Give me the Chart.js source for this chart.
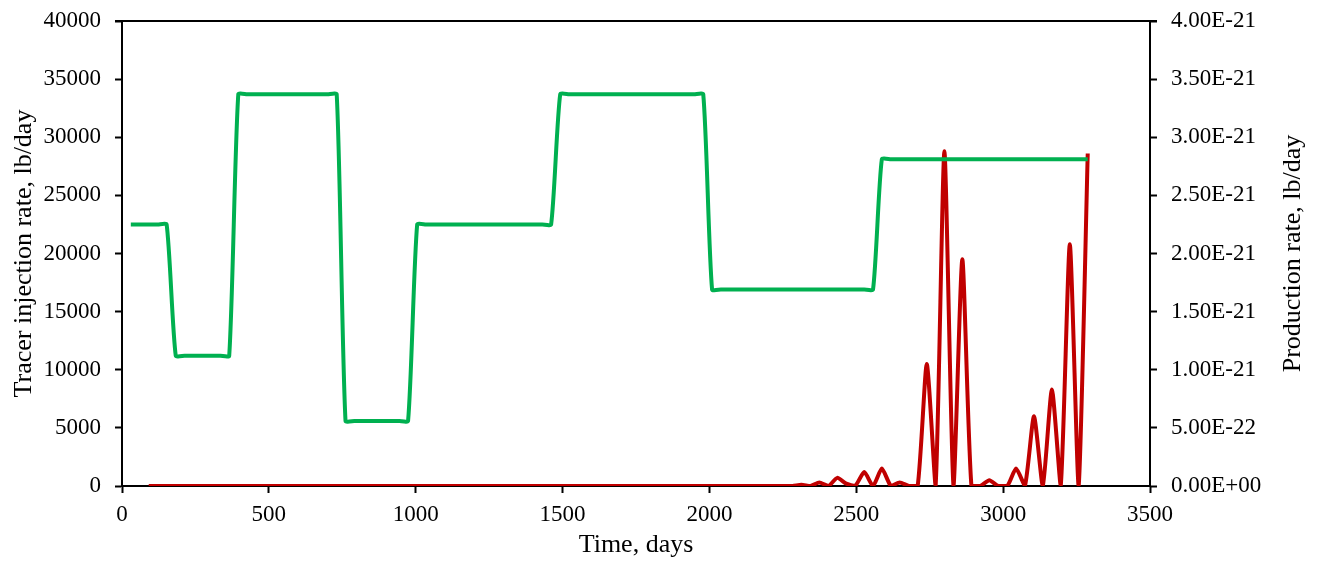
<!DOCTYPE html>
<html>
<head>
    <title>Tracer injection and production</title>
    <style>
        body {
            margin: 0;
            background: #fff;
        }
        #wrap {
            width: 1322px;
            height: 561px;
        }
    </style>
    <script src="https://cdn.jsdelivr.net/npm/chart.js"></script>
</head>
<body>
    <div id="wrap"><canvas id="tracerChart"></canvas></div>

    <script>
        // monthly time steps, days
        const days = [
            30, 61, 91, 122, 152, 183, 213, 244, 274, 304, 335, 365,
            396, 426, 457, 487, 517, 548, 578, 609, 639, 670, 700, 731,
            761, 791, 822, 852, 883, 913, 944, 974, 1005, 1035, 1065, 1096,
            1126, 1157, 1187, 1218, 1248, 1278, 1309, 1339, 1370, 1400, 1431, 1461,
            1492, 1522, 1552, 1583, 1613, 1644, 1674, 1705, 1735, 1766, 1796, 1826,
            1857, 1887, 1918, 1948, 1979, 2009, 2039, 2070, 2100, 2131, 2161, 2192,
            2222, 2253, 2283, 2313, 2344, 2374, 2405, 2435, 2466, 2496, 2527, 2557,
            2587, 2618, 2648, 2679, 2709, 2740, 2770, 2800, 2831, 2861, 2892, 2922,
            2953, 2983, 3014, 3044, 3074, 3105, 3135, 3166, 3196, 3227, 3257, 3288
        ];

        // tracer injection rate, lb/day
        const injectionRate = [
            22500, 22500, 22500, 22500, 22500, 11200, 11200, 11200, 11200, 11200, 11200, 11200,
            33700, 33700, 33700, 33700, 33700, 33700, 33700, 33700, 33700, 33700, 33700, 33700,
            5600, 5600, 5600, 5600, 5600, 5600, 5600, 5600, 22500, 22500, 22500, 22500,
            22500, 22500, 22500, 22500, 22500, 22500, 22500, 22500, 22500, 22500, 22500, 22500,
            33700, 33700, 33700, 33700, 33700, 33700, 33700, 33700, 33700, 33700, 33700, 33700,
            33700, 33700, 33700, 33700, 33700, 16900, 16900, 16900, 16900, 16900, 16900, 16900,
            16900, 16900, 16900, 16900, 16900, 16900, 16900, 16900, 16900, 16900, 16900, 16900,
            28100, 28100, 28100, 28100, 28100, 28100, 28100, 28100, 28100, 28100, 28100, 28100,
            28100, 28100, 28100, 28100, 28100, 28100, 28100, 28100, 28100, 28100, 28100, 28100
        ];

        // tracer production rate, lb/day (no value for the first two months)
        const productionRate = [
            null, null, 0, 0, 0, 0, 0, 0, 0, 0, 0, 0,
            0, 0, 0, 0, 0, 0, 0, 0, 0, 0, 0, 0,
            0, 0, 0, 0, 0, 0, 0, 0, 0, 0, 0, 0,
            0, 0, 0, 0, 0, 0, 0, 0, 0, 0, 0, 0,
            0, 0, 0, 0, 0, 0, 0, 0, 0, 0, 0, 0,
            0, 0, 0, 0, 0, 0, 0, 0, 0, 0, 0, 0,
            0, 0, 0, 1e-23, 0, 3e-23, 0, 7e-23, 2e-23, 0, 1.2e-22, 0,
            1.5e-22, 0, 3e-23, 0, 0, 1.05e-21, 0, 2.88e-21, 0, 1.95e-21, 0, 0,
            5e-23, 0, 0, 1.5e-22, 0, 6.0e-22, 0, 8.3e-22, 0, 2.08e-21, 0, 2.86e-21
        ];

        const leftTitle = 'Tracer injection rate, lb/day';
        const rightTitle = 'Production rate, lb/day';

        const injectionPoints = days.map((d, i) => ({ x: d, y: injectionRate[i] }));
        const productionPoints = days.map((d, i) => ({ x: d, y: productionRate[i] }));

        function sciLabel(v) {
            if (Math.abs(v) < 1e-30) return '0.00E+00';
            const parts = v.toExponential(2).split('e');
            let exp = parseInt(parts[1], 10);
            const sign = exp < 0 ? '-' : '+';
            exp = Math.abs(exp);
            return parts[0] + 'E' + sign + (exp < 10 ? '0' + exp : exp);
        }

        // top frame line and both y titles (read bottom to top, like Excel)
        const frameAndTitles = {
            id: 'frameAndTitles',
            afterDraw(chart) {
                const a = chart.chartArea;
                const c = chart.ctx;
                c.save();
                c.strokeStyle = '#000';
                c.lineWidth = 2;
                c.beginPath();
                c.moveTo(a.left - 7, a.top);
                c.lineTo(a.right + 7, a.top);
                c.stroke();

                c.fillStyle = '#000';
                c.font = '26px "Liberation Serif"';
                c.textAlign = 'center';
                c.textBaseline = 'middle';
                const midY = (a.top + a.bottom) / 2;
                [[24, leftTitle], [1293, rightTitle]].forEach(([x, txt]) => {
                    c.save();
                    c.translate(x, midY);
                    c.rotate(-Math.PI / 2);
                    c.fillText(txt, 0, 0);
                    c.restore();
                });
                c.restore();
            }
        };

        const tickFont = { family: 'Liberation Serif', size: 23 };
        const titleFont = { family: 'Liberation Serif', size: 26 };

        const axisGrid = {
            drawOnChartArea: false,
            drawTicks: true,
            tickLength: 7,
            tickWidth: 2,
            tickColor: '#000'
        };

        function fixY(width) {
            return function (scale) {
                scale.width = width;
                scale.paddingTop = 0;
                scale.paddingBottom = 0;
            };
        }

        new Chart(document.getElementById('tracerChart'), {
            type: 'line',
            data: {
                datasets: [{
                    label: 'Injection',
                    data: injectionPoints,
                    yAxisID: 'y',
                    borderColor: '#00B050',
                    borderWidth: 4,
                    pointRadius: 0,
                    tension: 0.2
                }, {
                    label: 'Production',
                    data: productionPoints,
                    yAxisID: 'y2',
                    borderColor: '#C00000',
                    borderWidth: 4,
                    pointRadius: 0,
                    tension: 0.2
                }]
            },
            options: {
                responsive: true,
                maintainAspectRatio: false,
                animation: false,
                layout: {
                    padding: { top: 21, right: 0, bottom: 0, left: 0 }
                },
                plugins: {
                    legend: { display: false },
                    tooltip: { enabled: false }
                },
                scales: {
                    x: {
                        type: 'linear',
                        min: 0,
                        max: 3500,
                        ticks: { stepSize: 500, color: '#000', font: tickFont, padding: 8, callback: v => String(v) },
                        grid: axisGrid,
                        border: { color: '#000', width: 2 },
                        title: { display: true, text: 'Time, days', color: '#000', font: titleFont, padding: { top: 0, bottom: 0 } },
                        afterFit(scale) { scale.height = 75; }
                    },
                    y: {
                        position: 'left',
                        min: 0,
                        max: 40000,
                        ticks: { stepSize: 5000, color: '#000', font: tickFont, padding: 14, callback: v => String(v) },
                        grid: axisGrid,
                        border: { color: '#000', width: 2 },
                        afterFit: fixY(122)
                    },
                    y2: {
                        position: 'right',
                        min: 0,
                        max: 4e-21,
                        ticks: { stepSize: 5e-22, color: '#000', font: tickFont, padding: 14, callback: v => sciLabel(v) },
                        grid: axisGrid,
                        border: { color: '#000', width: 2 },
                        afterFit: fixY(172)
                    }
                }
            },
            plugins: [frameAndTitles]
        });
    </script>
</body>
</html>
